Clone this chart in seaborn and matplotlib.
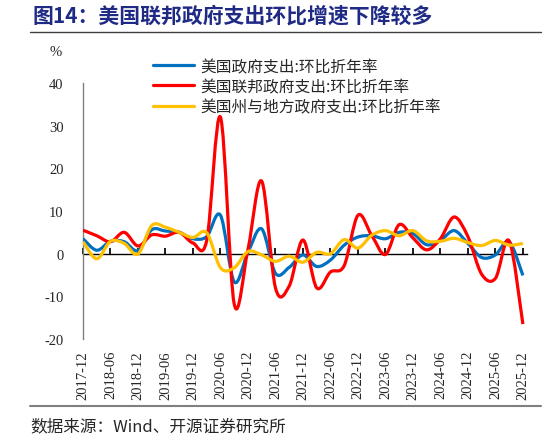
import numpy as np
import pandas as pd
import seaborn as sns
import matplotlib.pyplot as plt
from matplotlib.path import Path
from matplotlib.patches import PathPatch
from matplotlib.lines import Line2D

# 季度数据 2017-12 ~ 2025-12
tick_labels = ["2017-12", "2018-06", "2018-12", "2019-06", "2019-12", "2020-06",
               "2020-12", "2021-06", "2021-12", "2022-06", "2022-12", "2023-06",
               "2023-12", "2024-06", "2024-12", "2025-06", "2025-12"]

total = [3.5, 0.8, 2.9, 2.8, 0.7, 5.6, 5.3, 5.0, 3.5, 4.0, 9.0, -6.6, 0.3, 5.8, -4.6, -3.2, -0.3,
         -3.0, -1.5, 2.0, 3.9, 4.2, 3.5, 5.0, 4.7, 2.1, 3.1, 5.4, 2.4, -0.9, -0.3, 2.8, -5.1]
federal = [5.5, 4.2, 2.8, 5.0, 1.8, 4.4, 4.1, 5.0, 2.5, 3.1, 32.0, -11.8, 1.0, 17.0, -8.0, -7.6, 3.2,
           -8.0, -4.3, -2.8, 9.0, 4.3, -0.2, 6.8, 3.7, 0.9, 3.5, 8.6, 4.0, -4.8, -5.8, 3.0, -16.5]
state_local = [2.8, -1.2, 2.9, 2.4, -0.1, 6.6, 6.2, 5.0, 3.8, 4.9, -3.3, -3.3, 0.5, -0.3, -1.8, -0.6, -2.0,
               0.3, 0.0, 3.3, 1.3, 4.3, 5.4, 4.2, 5.4, 3.0, 2.9, 3.6, 2.6, 1.9, 3.1, 2.0, 2.4]

names = ["美国政府支出:环比折年率", "美国联邦政府支出:环比折年率", "美国州与地方政府支出:环比折年率"]
colors = ["#0070C0", "#FF0000", "#FFC000"]

df = pd.DataFrame({"q": np.arange(len(total)), names[0]: total,
                   names[1]: federal, names[2]: state_local})

sns.set_theme(style="white")
plt.rcParams["font.family"] = ["Noto Sans CJK SC", "DejaVu Sans"]
serif = "Liberation Serif"


def smooth_path(x, y):
    # 平滑曲线 (Catmull-Rom -> Bezier)
    pts = np.column_stack([x, y]).astype(float)
    p = np.vstack([pts[0], pts, pts[-1]])
    verts = [pts[0]]
    codes = [Path.MOVETO]
    for i in range(1, len(p) - 2):
        c1 = p[i] + (p[i + 1] - p[i - 1]) / 6
        c2 = p[i + 1] - (p[i + 2] - p[i]) / 6
        verts += [c1, c2, p[i + 1]]
        codes += [Path.CURVE4] * 3
    return Path(verts, codes)


W, H = 546, 439
fig = plt.figure(figsize=(W / 100, H / 100), dpi=100)
ax = fig.add_axes([83 / W, 1 - 340 / H, 444 / W, 256 / H])

for name, c in zip(names, colors):
    ax.add_patch(PathPatch(smooth_path(df["q"], df[name]), fc="none", ec=c,
                           lw=2.3, joinstyle="round", capstyle="butt", zorder=3))

ax.set_xlim(0, 32.3)
ax.set_ylim(-20, 40)
ax.set_yticks(range(-20, 41, 10))
ax.set_yticklabels([str(v) for v in range(-20, 41, 10)], family=serif, fontsize=10.5)
ax.set_xticks(np.arange(0, len(total), 2))
ax.set_xticklabels(tick_labels, rotation=90, family=serif, fontsize=10.5)
ax.tick_params(axis="x", length=0, pad=8)
ax.tick_params(axis="y", direction="in", length=4, color="#808080", pad=14)
for s in ["top", "right", "bottom"]:
    ax.spines[s].set_visible(False)
ax.spines["left"].set_color("#808080")
ax.spines["left"].set_linewidth(1)
ax.set_xlabel("")
ax.set_ylabel("")

# 零轴
sec = ax.secondary_xaxis(0, transform=ax.transData)
sec.set_xticks(np.arange(0, len(total), 2))
sec.tick_params(direction="in", length=4, color="black", labelbottom=False, labeltop=False)
for s in sec.spines.values():
    s.set_color("black")
    s.set_linewidth(1)

handles = [Line2D([0], [0], color=c, lw=2.3) for c in colors]
ax.legend(handles, names, loc="upper left", bbox_to_anchor=(145 / W, 1 - 51 / H),
          bbox_transform=fig.transFigure, frameon=False, fontsize=11.3,
          handlelength=2.6, handletextpad=0.4, labelspacing=0.2, borderpad=0)

fig.text(50 / W, 1 - 53 / H, "%", family=serif, fontsize=10.5, va="center")
fig.text(32 / W, 1 - 16 / H, "图14：美国联邦政府支出环比增速下降较多", fontsize=15,
         fontweight="bold", color="#1F2A85", va="center")
fig.add_artist(Line2D([30 / W, 541 / W], [1 - 33 / H] * 2, color="#404040", lw=1))
fig.add_artist(Line2D([30 / W, 541 / W], [1 - 407 / H] * 2, color="#808080", lw=1.5))
fig.text(30 / W, 1 - 427 / H, "数据来源：Wind、开源证券研究所", fontsize=12, va="center")

plt.savefig("out.png", dpi=100)
